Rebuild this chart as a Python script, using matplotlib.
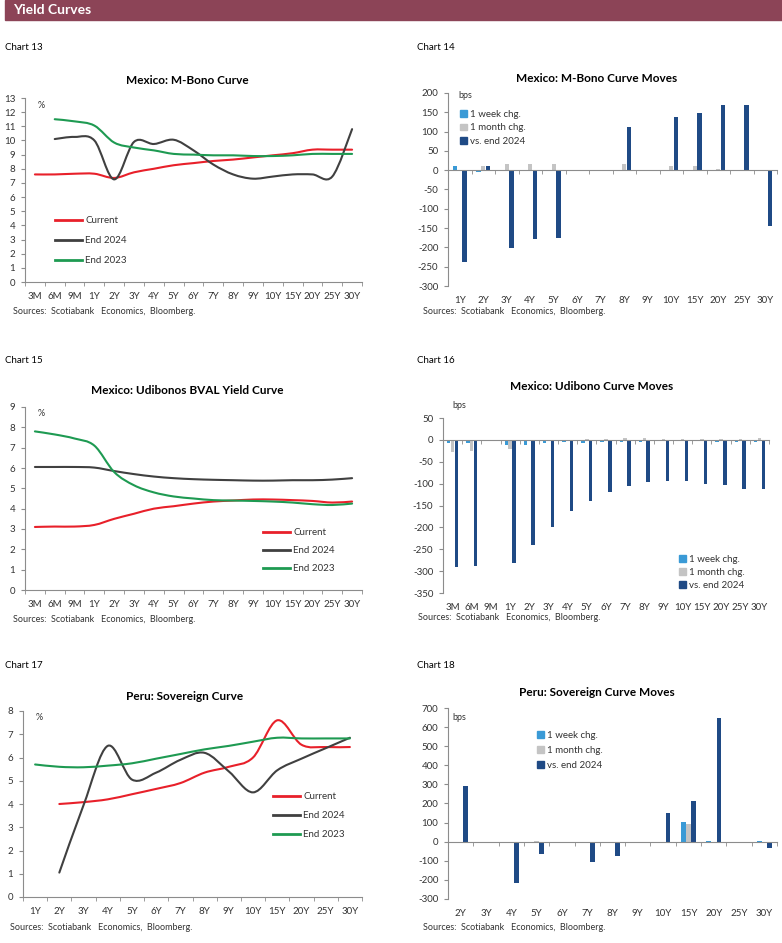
import numpy as np
import matplotlib
matplotlib.use('Agg')
import matplotlib.pyplot as plt
from matplotlib.path import Path
from matplotlib.patches import PathPatch, Rectangle
from matplotlib.lines import Line2D

plt.rcParams['font.family'] = ['Lato', 'DejaVu Sans']
plt.rcParams['axes.unicode_minus'] = False

nan = np.nan

# ---- data ----
mx_tenors = ['3M', '6M', '9M', '1Y', '2Y', '3Y', '4Y', '5Y', '6Y', '7Y', '8Y', '9Y',
             '10Y', '15Y', '20Y', '25Y', '30Y']

mbono_current = [7.6, 7.6, 7.65, 7.65, 7.35, 7.75, 8.0, 8.25, 8.4, 8.55, 8.65, 8.8,
                 8.95, 9.1, 9.35, 9.35, 9.35]
mbono_end24 = [nan, 10.1, 10.25, 10.0, 7.25, 9.9, 9.75, 10.05, 9.3, 8.3, 7.6, 7.3,
               7.45, 7.6, 7.6, 7.45, 10.8]
mbono_end23 = [nan, 11.5, 11.35, 11.05, 9.85, 9.5, 9.3, 9.05, 9.0, 8.95, 8.95, 8.9,
               8.9, 8.95, 9.05, 9.05, 9.05]

mbono_mv_tenors = ['1Y', '2Y', '3Y', '4Y', '5Y', '6Y', '7Y', '8Y', '9Y', '10Y', '15Y',
                   '20Y', '25Y', '30Y']
mbono_wk = [12, -5, 0, 0, -3, 0, 0, 0, 0, 0, 0, -3, -3, -3]
mbono_mo = [0, 12, 15, 15, 15, 0, 0, 17, 0, 12, 10, 3, 0, 0]
mbono_ytd = [-238, 10, -202, -178, -175, 0, 0, 112, 0, 138, 148, 170, 168, -145]

udi_current = [3.1, 3.12, 3.12, 3.2, 3.5, 3.75, 4.0, 4.12, 4.25, 4.35, 4.4, 4.45,
               4.45, 4.42, 4.38, 4.3, 4.35]
udi_end24 = [6.05, 6.05, 6.05, 6.02, 5.85, 5.7, 5.58, 5.5, 5.45, 5.42, 5.4, 5.38,
             5.38, 5.4, 5.4, 5.43, 5.5]
udi_end23 = [7.8, 7.65, 7.45, 7.1, 5.8, 5.15, 4.8, 4.6, 4.5, 4.42, 4.4, 4.38,
             4.35, 4.3, 4.22, 4.18, 4.25]

udi_wk = [-8, -8, 0, -12, -12, -8, -4, -6, -4, -4, -4, -3, -2, -2, -4, -4, -4]
udi_mo = [-28, -25, 0, -20, 0, 0, 0, 2, 3, 4, 4, 2, 2, 2, 3, 2, 5]
udi_ytd = [-290, -288, 0, -282, -240, -200, -162, -140, -120, -105, -97, -93, -93,
           -100, -103, -112, -112]

peru_tenors = ['1Y', '2Y', '3Y', '4Y', '5Y', '6Y', '7Y', '8Y', '9Y', '10Y', '15Y',
               '20Y', '25Y', '30Y']
peru_current = [nan, 4.0, 4.08, 4.2, 4.42, 4.65, 4.9, 5.35, 5.6, 6.0, 7.6, 6.55, 6.45, 6.45]
peru_end24 = [nan, 1.05, 3.95, 6.5, 5.05, 5.35, 5.9, 6.2, 5.4, 4.5, 5.45, 5.95, 6.4, 6.85]
peru_end23 = [5.7, 5.6, 5.58, 5.65, 5.75, 5.95, 6.15, 6.35, 6.5, 6.68, 6.85, 6.82, 6.82, 6.82]

peru_mv_tenors = ['2Y', '3Y', '4Y', '5Y', '6Y', '7Y', '8Y', '9Y', '10Y', '15Y', '20Y',
                  '25Y', '30Y']
peru_wk = [0, 0, 0, 0, 0, 0, 0, 0, 0, 102, 5, 0, 5]
peru_mo = [0, 0, 0, 3, 0, 0, 0, 0, 0, 92, -3, 0, -3]
peru_ytd = [290, 0, -215, -65, 0, -105, -75, 0, 152, 215, 650, 0, -35]

line_names = ['Current', 'End 2024', 'End 2023']
bar_names = ['1 week chg.', '1 month chg.', 'vs. end 2024']

RED = '#E8202A'
DGREY = '#404040'
GREEN = '#1E9A52'
C_WK = '#3A9AD6'
C_MO = '#C4C4C4'
C_YTD = '#1F4A85'
AXC = '#8C8C8C'
TXT = '#333333'

W, H = 782, 943
fig = plt.figure(figsize=(W / 100, H / 100), dpi=100)


def box(l, t, r, b):
    return [l / W, 1 - b / H, (r - l) / W, (b - t) / H]


def ftext(x, y, s, **kw):
    kw.setdefault('va', 'center')
    fig.text(x / W, 1 - y / H, s, **kw)


def smooth_path(xs, ys):
    pts = np.array([(a, b) for a, b in zip(xs, ys) if not np.isnan(b)])
    n = len(pts)
    verts = [pts[0]]
    codes = [Path.MOVETO]
    for i in range(n - 1):
        p0 = pts[max(i - 1, 0)]
        p3 = pts[min(i + 2, n - 1)]
        c1 = pts[i] + (pts[i + 1] - p0) / 6
        c2 = pts[i + 1] - (p3 - pts[i]) / 6
        verts += [c1, c2, pts[i + 1]]
        codes += [Path.CURVE4] * 3
    return Path(verts, codes)


def style_axes(ax, n):
    for s in ['top', 'right']:
        ax.spines[s].set_visible(False)
    for s in ['left', 'bottom']:
        ax.spines[s].set_color(AXC)
        ax.spines[s].set_linewidth(0.8)
    ax.set_xlim(-0.5, n - 0.5)
    ax.set_xticks(np.arange(n - 1 + 1) - 0.5 + 0.0, minor=True)
    ax.set_xticks(np.arange(n + 1) - 0.5, minor=True)
    ax.tick_params(axis='x', which='minor', length=3, color=AXC, direction='out')
    ax.tick_params(axis='y', length=3, color=AXC, direction='out', labelsize=7,
                   labelcolor=TXT, pad=4)
    ax.patch.set_alpha(0)


def line_chart(rect, tenors, series, ymax, leg_xy, leg_gap):
    ax = fig.add_axes(box(*rect))
    n = len(tenors)
    x = np.arange(n)
    for ys, c in zip(series, [RED, DGREY, GREEN]):
        ax.add_patch(PathPatch(smooth_path(x, ys), fill=False, edgecolor=c, lw=1.5,
                               capstyle='round', joinstyle='round'))
    style_axes(ax, n)
    ax.set_ylim(0, ymax)
    ax.set_yticks(np.arange(0, ymax + 1))
    ax.set_xticks(x, tenors)
    ax.tick_params(axis='x', which='major', length=0, labelsize=7, labelcolor=TXT, pad=7)
    handles = [Line2D([], [], color=c, lw=2) for c in [RED, DGREY, GREEN]]
    ax.legend(handles, line_names, loc='upper left', frameon=False, fontsize=7,
              bbox_to_anchor=(leg_xy[0] / W, 1 - leg_xy[1] / H),
              bbox_transform=fig.transFigure, borderpad=0, borderaxespad=0,
              handlelength=2.8, handletextpad=0.3, labelspacing=leg_gap,
              labelcolor=TXT)
    ftext(rect[0] + 13, rect[1] + 7, '%', fontsize=6.5, color=TXT)
    return ax


def bar_chart(rect, tenors, wk, mo, ytd, ylim, step, leg_xy, leg_gap):
    ax = fig.add_axes(box(*rect))
    n = len(tenors)
    x = np.arange(n)
    bw = 0.18
    ax.bar(x - 0.2, wk, bw, color=C_WK)
    ax.bar(x, mo, bw, color=C_MO)
    ax.bar(x + 0.2, ytd, bw, color=C_YTD)
    style_axes(ax, n)
    ax.spines['bottom'].set_position(('data', 0))
    ax.set_ylim(*ylim)
    ax.set_yticks(np.arange(ylim[0], ylim[1] + 1, step))
    ax.set_xticks(x, [''] * n)
    ax.tick_params(axis='x', which='major', length=0)
    sec = ax.secondary_xaxis('bottom')
    sec.set_xticks(x, tenors)
    sec.tick_params(length=0, labelsize=7, labelcolor=TXT, pad=7)
    sec.spines['bottom'].set_visible(False)
    handles = [Rectangle((0, 0), 1, 1, color=c) for c in [C_WK, C_MO, C_YTD]]
    ax.legend(handles, bar_names, loc='upper left', frameon=False, fontsize=7,
              bbox_to_anchor=(leg_xy[0] / W, 1 - leg_xy[1] / H),
              bbox_transform=fig.transFigure, borderpad=0, borderaxespad=0,
              handlelength=0.7, handleheight=0.7, handletextpad=0.3,
              labelspacing=leg_gap, labelcolor=TXT)
    return ax


# ---- header ----
fig.patches.append(Rectangle((5 / W, 1 - 20 / H), (W - 5) / W, 20 / H,
                             transform=fig.transFigure, color='#8C4457', zorder=0))
ftext(13, 10, 'Yield Curves', fontsize=10, fontweight='bold', color='white')

for lbl, xx, yy in [('Chart 13', 5, 47), ('Chart 14', 417, 47), ('Chart 15', 5, 361),
                    ('Chart 16', 417, 361), ('Chart 17', 5, 665), ('Chart 18', 417, 665)]:
    ftext(xx, yy, lbl, fontsize=7, color='black')

src = 'Sources:  Scotiabank   Economics,  Bloomberg.'

# Chart 13
line_chart((25, 98, 362, 282), mx_tenors, [mbono_current, mbono_end24, mbono_end23],
           13, (55, 216), 1.15)
ftext(187, 81, 'Mexico: M-Bono Curve', fontsize=8.5, fontweight='bold', ha='center')
ftext(13, 311, src, fontsize=6.5, color=TXT)

# Chart 14
bar_chart((448, 93, 777, 286), mbono_mv_tenors, mbono_wk, mbono_mo, mbono_ytd,
          (-300, 200), 50, (460, 110), 0.45)
ftext(597, 79, 'Mexico: M-Bono Curve Moves', fontsize=8.5, fontweight='bold', ha='center')
ftext(458, 96, 'bps', fontsize=6.5, color=TXT)
ftext(423, 311, src, fontsize=6.5, color=TXT)

# Chart 15
line_chart((25, 407, 362, 590), mx_tenors, [udi_current, udi_end24, udi_end23],
           9, (263, 528), 0.95)
ftext(187, 390, 'Mexico: Udibonos BVAL Yield Curve', fontsize=8.5, fontweight='bold',
      ha='center')
ftext(13, 619, src, fontsize=6.5, color=TXT)

# Chart 16
bar_chart((443, 418, 769, 593), mx_tenors, udi_wk, udi_mo, udi_ytd,
          (-350, 50), 50, (679, 555), 0.4)
ftext(592, 387, 'Mexico: Udibono Curve Moves', fontsize=8.5, fontweight='bold', ha='center')
ftext(452, 406, 'bps', fontsize=6.5, color=TXT)
ftext(418, 618, src, fontsize=6.5, color=TXT)

# Chart 17
line_chart((23, 711, 362, 897), peru_tenors, [peru_current, peru_end24, peru_end23],
           8, (273, 792), 1.05)
ftext(185, 697, 'Peru: Sovereign Curve', fontsize=8.5, fontweight='bold', ha='center')
ftext(10, 927, src, fontsize=6.5, color=TXT)

# Chart 18
bar_chart((448, 708, 777, 899), peru_mv_tenors, peru_wk, peru_mo, peru_ytd,
          (-300, 700), 100, (537, 731), 0.6)
ftext(597, 693, 'Peru: Sovereign Curve Moves', fontsize=8.5, fontweight='bold', ha='center')
ftext(452, 718, 'bps', fontsize=6.5, color=TXT)
ftext(423, 927, src, fontsize=6.5, color=TXT)

fig.savefig('out.png', dpi=100)
